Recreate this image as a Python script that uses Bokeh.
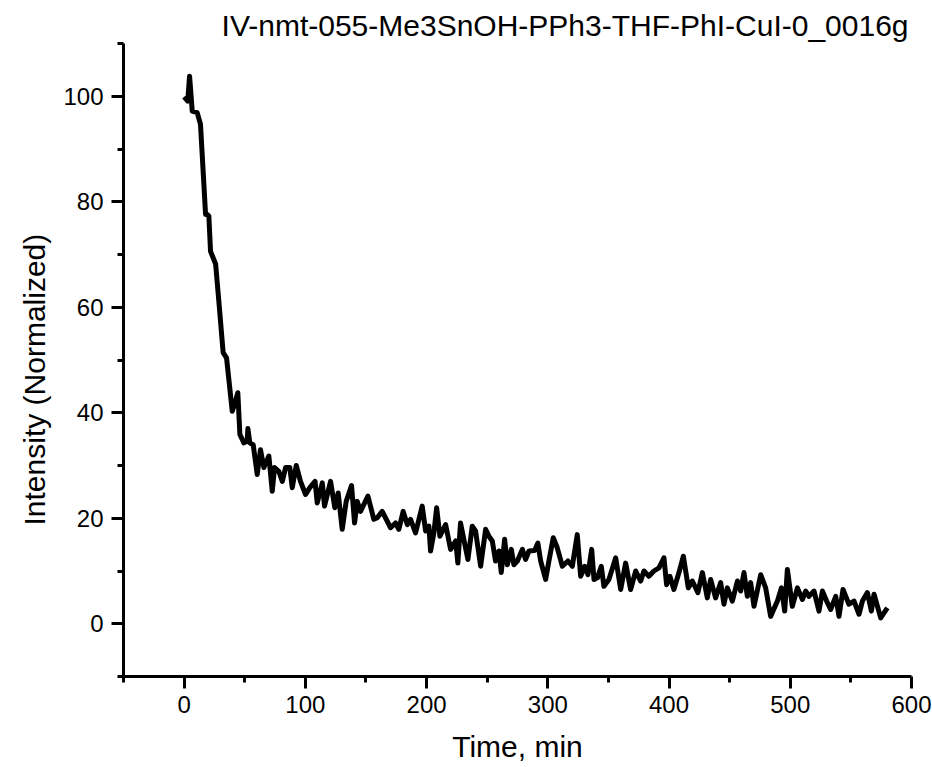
from bokeh.plotting import figure
from bokeh.models import Range1d, FixedTicker, Title
from bokeh.embed import file_html
from bokeh.resources import INLINE

title_text = "IV-nmt-055-Me3SnOH-PPh3-THF-PhI-CuI-0_0016g"
x_label = "Time, min"
y_label = "Intensity (Normalized)"

x_major = [0, 100, 200, 300, 400, 500, 600]
x_minor = [-50, 50, 150, 250, 350, 450, 550]
y_major = [0, 20, 40, 60, 80, 100]
y_minor = [-10, 10, 30, 50, 70, 90, 110]

time_min = [
    0, 3.0, 4.5, 6.7, 10.8, 13.5, 17.7, 19.0, 20.4, 21.8, 26.0, 28.7, 32.2, 35.0,
    39.7, 41.6, 44.3, 46.0, 49.3, 52.0, 52.6, 54.2, 57.0, 60.3, 63.0, 65.8, 69.9,
    72.7, 74.6, 78.1, 81.0, 83.7, 87.2, 89.2, 92.5, 96.0, 100.2, 103.7, 108.0,
    109.8, 114.0, 115.8, 120.8, 124.3, 127.1, 130.4, 133.7, 138.1, 140.6, 142.8,
    145.5, 151.6, 156.5, 159.3, 163.4, 170.3, 174.4, 177.1, 180.7, 184.1, 186.8,
    190.9, 196.4, 199.2, 201.9, 203.3, 206.0, 208.3, 211.0, 215.7, 219.8, 224.0,
    225.8, 228.0, 234.1, 237.7, 240.4, 244.6, 248.7, 251.4, 254.2, 256.9, 259.7,
    261.6, 264.4, 266.6, 269.9, 272.0, 274.9, 279.0, 281.7, 284.5, 289.1, 291.8,
    294.1, 298.2, 300.9, 304.5, 307.8, 312.0, 316.6, 320.2, 324.3, 327.1, 330.4,
    333.1, 336.2, 338.1, 340.9, 344.1, 346.3, 350.4, 356.0, 360.1, 364.2, 368.3,
    372.5, 376.6, 379.3, 383.4, 387.5, 391.7, 395.8, 398.0, 400.7, 404.0, 408.2,
    411.8, 415.9, 419.2, 423.8, 427.5, 431.6, 434.3, 438.4, 442.6, 445.3, 448.1,
    452.2, 456.4, 459.1, 461.8, 464.6, 467.3, 470.1, 475.6, 479.7, 483.8, 489.4,
    492.7, 495.4, 497.6, 501.7, 505.9, 510.0, 512.7, 515.4, 519.6, 523.7, 526.5,
    530.0, 533.3, 537.5, 540.2, 543.5, 548.4, 552.6, 556.7, 559.5, 563.6, 566.9,
    569.1, 574.6, 580.1, 582.7,
]

intensity = [
    99.9, 99.1, 103.8, 97.2, 96.9, 94.7, 77.6, 77.6, 77.3, 70.6, 68.2, 61.0, 51.4, 50.4,
    40.3, 41.6, 43.8, 35.9, 34.3, 34.6, 37.0, 34.3, 33.9, 28.3, 33.0, 29.6, 31.8,
    25.1, 29.6, 28.9, 27.0, 29.6, 29.6, 25.8, 30.0, 27.0, 24.5, 25.8, 27.0,
    22.9, 26.7, 22.3, 27.0, 22.0, 24.8, 17.9, 23.2, 26.2, 19.1, 23.2,
    21.3, 24.2, 19.8, 20.1, 21.3, 18.2, 19.1, 17.9, 21.3, 18.8, 19.8,
    17.2, 22.3, 17.6, 18.5, 13.8, 17.2, 22.0, 16.6, 18.8, 14.1, 15.7,
    11.5, 19.1, 12.2, 18.5, 17.6, 10.9, 17.9, 16.6, 15.7, 11.9, 13.8,
    9.7, 16.0, 11.2, 14.1, 11.2, 11.9, 14.1, 12.2, 13.8, 13.9, 15.3,
    11.9, 8.4, 11.9, 16.3, 14.4, 10.9, 11.9, 10.9, 16.9, 9.0, 10.9,
    9.3, 14.1, 8.4, 8.7, 10.9, 7.1, 8.4, 12.5, 6.5, 11.5, 6.5,
    10.0, 8.1, 10.0, 9.0, 10.0, 10.6, 12.5, 7.4, 9.0, 6.5, 9.7,
    12.8, 6.8, 8.1, 5.9, 9.7, 4.9, 8.4, 4.9, 7.8, 3.7,
    6.8, 4.3, 8.1, 6.2, 9.7, 5.2, 7.8, 3.3, 9.3, 6.8, 1.4,
    4.3, 6.8, 2.4, 10.3, 3.3, 6.8, 4.6, 6.2, 5.2, 6.2, 2.4,
    6.2, 4.3, 2.7, 5.2, 1.4, 6.5, 3.7, 4.3, 1.8, 4.3, 5.9,
    2.4, 5.6, 1.1, 3.0,
]

FONT = "Liberation Sans"

p = figure(
    frame_width=788, frame_height=633,
    min_border_left=123, min_border_right=21, min_border_top=43, min_border_bottom=91,
    x_range=Range1d(-50, 600), y_range=Range1d(-10, 110),
    output_backend="svg", toolbar_location=None,
    background_fill_color="white", border_fill_color="white",
)
p.outline_line_color = None
p.grid.visible = False

p.title = Title(
    text=title_text, align="right", offset=3, standoff=4,
    text_font=FONT, text_font_size="30px", text_font_style="normal", text_color="black",
)

p.line(time_min, intensity, line_color="black", line_width=5, line_join="round")

p.xaxis.ticker = FixedTicker(ticks=x_major, minor_ticks=x_minor)
p.yaxis.ticker = FixedTicker(ticks=y_major, minor_ticks=y_minor)

for ax in (p.xaxis[0], p.yaxis[0]):
    ax.axis_line_width = 3
    ax.axis_line_color = "black"
    ax.major_tick_line_width = 3
    ax.minor_tick_line_width = 3
    ax.major_tick_line_color = "black"
    ax.minor_tick_line_color = "black"
    ax.major_tick_in = 0
    ax.major_tick_out = 12
    ax.minor_tick_in = 0
    ax.minor_tick_out = 6
    ax.major_label_text_font = FONT
    ax.major_label_text_font_size = "24px"
    ax.major_label_text_color = "black"
    ax.axis_label_text_font = FONT
    ax.axis_label_text_font_size = "30px"
    ax.axis_label_text_font_style = "normal"
    ax.axis_label_text_color = "black"

p.xaxis.axis_label = x_label
p.xaxis.major_label_standoff = 7
p.xaxis.axis_label_standoff = 14
p.yaxis.major_label_standoff = 8

y_title = Title(
    text=y_label, align="left", offset=151, standoff=19,
    text_font=FONT, text_font_size="30px", text_font_style="normal", text_color="black",
)
p.add_layout(y_title, "left")

open("out.html", "w").write(file_html(p, INLINE))
